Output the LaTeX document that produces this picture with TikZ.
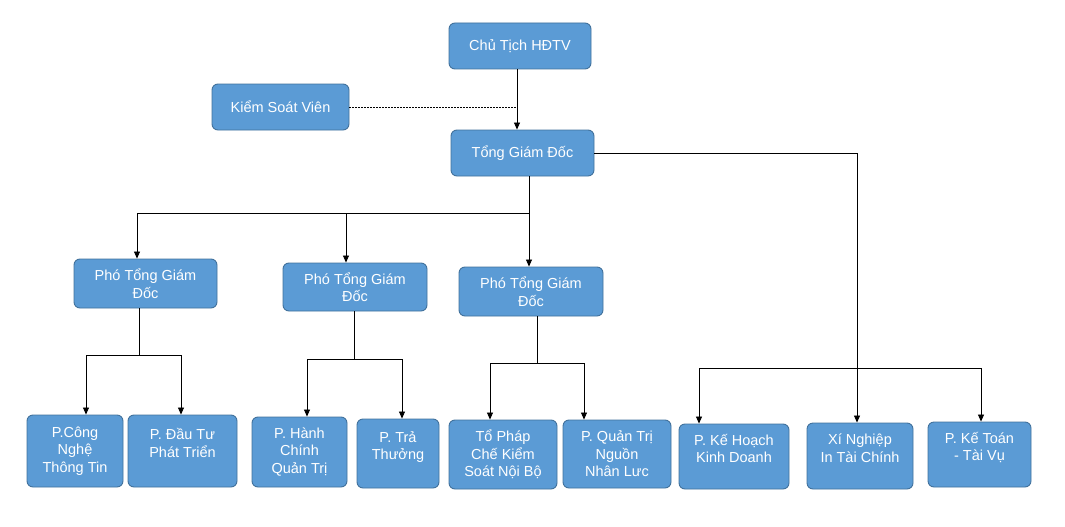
\documentclass[tikz,border=0pt]{standalone}
\usepackage{fontspec}
\setmainfont{Liberation Sans}
\usepackage{tikz}
\usetikzlibrary{calc}
\usetikzlibrary{arrows.meta}
\definecolor{boxfill}{HTML}{5B9BD5}
\definecolor{boxline}{HTML}{41719C}
\tikzset{
  orgunit/.style={draw=boxline, fill=boxfill, line width=0.9pt, rounded corners=6pt,
    text=white, align=center, inner sep=2pt, font=\fontsize{14.5}{17.5}\selectfont},
  arr/.style={line width=0.8pt, -{Triangle[length=7pt,width=6pt]}},
  link/.style={line width=0.8pt},
  dotline/.style={line width=0.8pt, dash pattern=on 2pt off 1pt}
}
\newcommand{\orgbox}[6]{\node[orgunit, minimum width={(#4-#2)*1pt}, minimum height={(#5-#3)*1pt}] (#1) at ( {(#2+#4)/2} , {(#3+#5)/2} ) {#6};}
% same box, text lifted towards the top edge
\newcommand{\orgboxup}[6]{\node[orgunit, minimum width={(#4-#2)*1pt}, minimum height={(#5-#3)*1pt}] (#1) at ( {(#2+#4)/2} , {(#3+#5)/2} ) {\raisebox{6pt}[\height][\depth]{\begin{tabular}{@{}c@{}}#6\end{tabular}}};}

\begin{document}
\begin{tikzpicture}[x=1pt, y=-1pt]
    \useasboundingbox (0,0) rectangle (1065,527);
    % top
    \orgbox{ct}{449}{23}{591}{69}{Chủ Tịch HĐTV}
    \orgbox{ksv}{212}{84}{349}{130}{Kiểm Soát Viên}
    \orgbox{tgd}{451}{130}{594}{176}{Tổng Giám Đốc}
    % deputies
    \orgbox{p1}{74}{259}{217}{308}{Phó Tổng Giám\\Đốc}
    \orgbox{p2}{283}{263}{427}{311}{Phó Tổng Giám\\Đốc}
    \orgbox{p3}{459}{267}{603}{316}{Phó Tổng Giám\\Đốc}
    % departments
    \orgbox{cntt}{27}{415}{123}{487}{P.Công\\Nghệ\\Thông Tin}
    \orgboxup{dttt}{128}{415}{237}{487}{P. Đầu Tư\\Phát Triển}
    \orgbox{hcqt}{252}{417}{347}{487}{P. Hành\\Chính\\Quản Trị}
    \orgboxup{tt}{357}{419}{439}{488}{P. Trả\\Thưởng}
    \orgbox{tpc}{449}{420}{557}{489}{Tổ Pháp\\Chế Kiểm\\Soát Nội Bộ}
    \orgbox{qtnl}{563}{420}{671}{488}{P. Quản Trị\\Nguồn\\Nhân Lưc}
    \orgboxup{khkd}{679}{424}{789}{489}{P. Kế Hoạch\\Kinh Doanh}
    \orgboxup{xn}{807}{423}{913}{489}{Xí Nghiệp\\In Tài Chính}
    \orgboxup{ktv}{928}{422}{1031}{487}{P. Kế Toán\\- Tài Vụ}
    % junctions
    \coordinate (ksvj) at (517,107);
    \coordinate (busA) at (529,213);
    \coordinate (busB) at (857,153);
    \coordinate (busC) at (857,368);
    \coordinate (j1) at (139,355);
    \coordinate (j2) at (354,359);
    \coordinate (j3) at (537,363);
    % links
    \draw[arr] (ct.south -| ksvj) -- (tgd.north -| ksvj);
    \draw[dotline] (ksv.east) -- (ksvj);
    \draw[link] (tgd.south -| busA) -- (busA);
    \draw[arr] (busA) -| ([xshift=-8.5pt]p1.north);
    \draw[arr] (busA) -| ([xshift=-9pt]p2.north);
    \draw[arr] (busA) -- (p3.north -| busA);
    \draw[arr] (tgd.east) -| ([xshift=-3pt]xn.north);
    \draw[arr] (busC) -| ([xshift=-35pt]khkd.north);
    \draw[arr] (busC) -| ([xshift=1.5pt]ktv.north);
    \draw[link] (p1.south -| j1) -- (j1);
    \draw[arr] (j1) -| ([xshift=11pt]cntt.north);
    \draw[arr] (j1) -| ([xshift=-1.5pt]dttt.north);
    \draw[link] (p2.south -| j2) -- (j2);
    \draw[arr] (j2) -| ([xshift=7.5pt]hcqt.north);
    \draw[arr] (j2) -| ([xshift=4pt]tt.north);
    \draw[link] (p3.south -| j3) -- (j3);
    \draw[arr] (j3) -| ([xshift=-13pt]tpc.north);
    \draw[arr] (j3) -| ([xshift=-33pt]qtnl.north);
\end{tikzpicture}
\end{document}
